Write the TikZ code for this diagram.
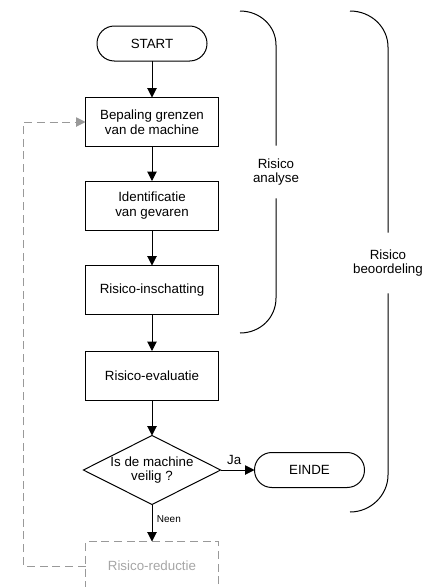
\documentclass[tikz,border=0pt]{standalone}
\usepackage{fontspec}
\setmainfont{Liberation Sans}
\usetikzlibrary{shapes.geometric}
\usetikzlibrary{arrows.meta}
\tikzset{%
    process/.style={inner sep=0pt,outer sep=0pt,shape=rectangle,draw,line width=0.75pt,minimum width=99.75pt,minimum height=36.75pt,align=center,font=\fontsize{10}{11}\selectfont},
    terminal/.style={process,rounded corners=13pt,minimum width=82.5pt,minimum height=26.25pt},
    decision/.style={inner sep=0pt,outer sep=0pt,shape=diamond,draw,line width=0.75pt,aspect=2,minimum width=100.5pt,minimum height=51.75pt,align=center,font=\fontsize{10}{11}\selectfont},
    reduction/.style={draw=gray!80,text=gray!70,dash pattern=on 6pt off 3.5pt},
    flow/.style={->,line width=0.75pt},
    loopback/.style={->,line width=0.75pt,draw=gray!80,dash pattern=on 6pt off 3.5pt},
    brace/.style={line width=0.75pt},
    brace label/.style={inner sep=0pt,align=center,font=\fontsize{10}{11}\selectfont},
}

\begin{document}
\begin{tikzpicture}[x=0.75pt,y=-0.75pt,>={Triangle[length=7pt,width=7pt]}]
        \useasboundingbox (0,0) rectangle (435,587);

        \node[terminal] (nodeStart) at (152,43.5) {START};
        \node[process] (nodeGrens) at (152,122) {Bepaling grenzen\\van de machine};
        \node[process] (nodeGevaar) at (152,205.5) {Identificatie\\van gevaren};
        \node[process] (nodeSchatting) at (152,290) {Risico-inschatting};
        \node[process] (nodeEvaluatie) at (152,375.5) {Risico-evaluatie};
        \node[decision] (nodeVeilig) at (152,470) {Is de machine\\veilig ?};
        \node[terminal] (nodeEinde) at (309.5,470) {EINDE};
        \node[process,reduction] (nodeReductie) at (152,566) {Risico-reductie};

        \draw[flow] (nodeStart) -- (nodeGrens);
        \draw[flow] (nodeGrens) -- (nodeGevaar);
        \draw[flow] (nodeGevaar) -- (nodeSchatting);
        \draw[flow] (nodeSchatting) -- (nodeEvaluatie);
        \draw[flow] (nodeEvaluatie) -- (nodeVeilig);
        \draw[flow] (nodeVeilig.east) -- (nodeEinde.west) node[pos=0.4,above,font=\fontsize{10}{11}\selectfont] {Ja};
        \draw[flow] (nodeVeilig.south) -- (nodeReductie.north) node[pos=0.4,right,font=\fontsize{7.5}{9}\selectfont] {Neen};
        \draw[loopback] (nodeReductie.west) -- ++(-62,0) |- (nodeGrens.west);

        \coordinate (anaTop) at (240,11);
        \coordinate (anaBot) at (240,333);
        \node[brace label,minimum height=39pt] (lblAnalyse) at (276,172) {Risico\\analyse};
        \draw[brace] (anaTop) .. controls (260,11) and (276,26) .. (276,45) -- (lblAnalyse.north);
        \draw[brace] (lblAnalyse.south) -- (276,298) .. controls (276,318) and (260,333) .. (anaBot);

        \coordinate (beoTop) at (350,11);
        \coordinate (beoBot) at (350,512);
        \node[brace label,minimum height=45pt] (lblBeoordeling) at (388,263) {Risico\\beoordeling};
        \draw[brace] (beoTop) .. controls (371,11) and (388,27) .. (388,47) -- (lblBeoordeling.north);
        \draw[brace] (lblBeoordeling.south) -- (388,475) .. controls (388,495) and (371,512) .. (beoBot);
    \end{tikzpicture}
\end{document}
